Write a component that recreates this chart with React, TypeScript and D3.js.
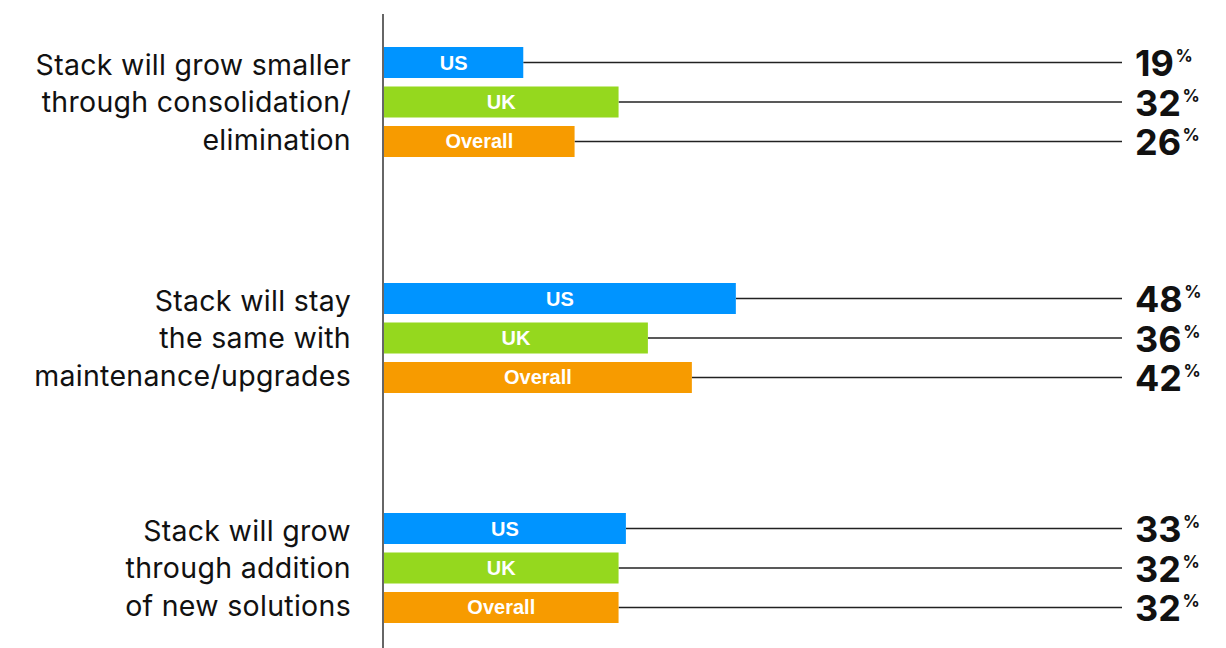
import React from "react";
import * as d3 from "d3";

const categories = [
  ["Stack will grow smaller", "through consolidation/", "elimination"],
  ["Stack will stay", "the same with", "maintenance/upgrades"],
  ["Stack will grow", "through addition", "of new solutions"],
];
const categoryKeys = ["smaller", "same", "grow"];
const seriesNames = ["US", "UK", "Overall"];
const seriesColors = ["#0094FF", "#95D81E", "#F79B00"];
const usValues = [19, 48, 33];
const ukValues = [32, 36, 32];
const overallValues = [26, 42, 32];
const allValues = [usValues, ukValues, overallValues];

const W = 1226;
const H = 648;

export default function App() {
  const x = d3.scaleLinear().domain([0, 100]).range([384, 384 + 733]);
  const groupY = d3.scaleOrdinal<string, number>().domain(categoryKeys).range([47, 283, 513]);
  const inner = d3.scaleBand().domain(seriesNames).range([0, 110]).paddingInner(0.215);
  const lineEnd = 1122;
  const labelX = 351;
  const valueX = 1135;

  return (
    <svg
      width={W}
      height={H}
      style={{ position: "absolute", left: 0, top: 0, background: "#fff" }}
    >
      <line x1={383} x2={383} y1={14} y2={H} stroke="#333" strokeWidth={1.5} />
      {categoryKeys.map((k, ci) => {
        const gy = groupY(k);
        const center = gy + 55;
        return (
          <g key={k}>
            <text
              textAnchor="end"
              fontFamily="Inter, 'Noto Sans', sans-serif"
              fontSize={28.5}
              letterSpacing={0.3}
              fill="#111"
            >
              {categories[ci].map((ln, li) => (
                <tspan key={li} x={labelX} y={center + 10 + (li - 1) * 37.5}>
                  {ln}
                </tspan>
              ))}
            </text>
            {seriesNames.map((s, si) => {
              const v = allValues[si][ci];
              const y0 = gy + (inner(s) as number);
              const bh = inner.bandwidth();
              const cy = y0 + bh / 2;
              const xe = x(v);
              return (
                <g key={s}>
                  <line x1={xe} x2={lineEnd} y1={cy} y2={cy} stroke="#222" strokeWidth={1.5} />
                  <rect x={x(0)} y={y0} width={xe - x(0)} height={bh} fill={seriesColors[si]} />
                  <text
                    x={(x(0) + xe) / 2}
                    y={cy + 7}
                    textAnchor="middle"
                    fontFamily="'Liberation Sans', Arial, sans-serif"
                    fontWeight="bold"
                    fontSize={20}
                    fill="#fff"
                  >
                    {s}
                  </text>
                  <text
                    x={valueX}
                    y={cy + 13.5}
                    fontFamily="Inter, 'Noto Sans', sans-serif"
                    fontWeight="bold"
                    fontSize={36}
                    fill="#111"
                  >
                    {v}
                    <tspan fontSize={17} dy={-14} dx={1.5}>%</tspan>
                  </text>
                </g>
              );
            })}
          </g>
        );
      })}
    </svg>
  );
}
